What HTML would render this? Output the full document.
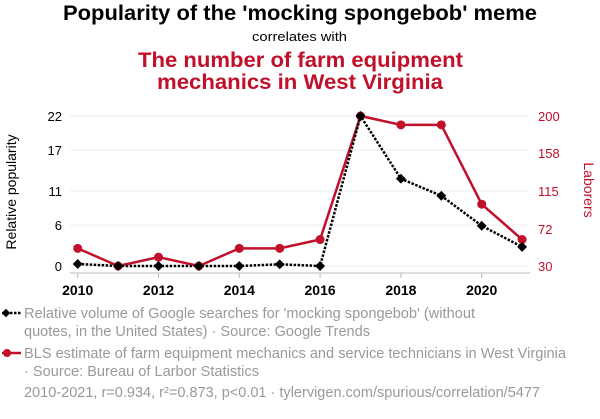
<!DOCTYPE html>
<html><head><meta charset="utf-8"><style>
body{margin:0;background:#fff;width:600px;height:414px;overflow:hidden;font-family:"Liberation Sans",sans-serif}
svg text{font-family:"Liberation Sans",sans-serif}
</style></head><body>
<svg id="c" width="600" height="414">
<text x="63" y="20" textLength="474" lengthAdjust="spacingAndGlyphs" font-size="21" font-weight="bold" fill="#000">Popularity of the 'mocking spongebob' meme</text>
<text x="252" y="41" textLength="95" lengthAdjust="spacingAndGlyphs" font-size="13" fill="#000">correlates with</text>
<text x="138" y="67" textLength="325" lengthAdjust="spacingAndGlyphs" font-size="21.5" font-weight="bold" fill="#c0102a">The number of farm equipment</text>
<text x="157" y="89" textLength="286" lengthAdjust="spacingAndGlyphs" font-size="21.5" font-weight="bold" fill="#c0102a">mechanics in West Virginia</text>
<g id="grid"></g><g id="axes"></g><g id="marks"></g>
<text transform="translate(16,192) rotate(-90)" text-anchor="middle" font-size="14" fill="#000">Relative popularity</text>
<text transform="translate(584,190) rotate(90)" text-anchor="middle" font-size="14" fill="#c0102a">Laborers</text>
<g>
<line x1="2" y1="313" x2="21" y2="313" stroke="#000" stroke-width="2.5" stroke-dasharray="2.5,1.5"/>
<rect x="3" y="310" width="6" height="6" transform="rotate(45 6 313)" fill="#000"/>
<text x="24" y="318" textLength="451" lengthAdjust="spacingAndGlyphs" font-size="14.5" fill="#999">Relative volume of Google searches for 'mocking spongebob' (without</text>
<text x="24" y="336" textLength="346" lengthAdjust="spacingAndGlyphs" font-size="14.5" fill="#999">quotes, in the United States) · Source: Google Trends</text></g>
<g>
<line x1="2" y1="353" x2="21" y2="353" stroke="#c0102a" stroke-width="2.5"/>
<circle cx="7" cy="353" r="4" fill="#c0102a"/>
<text x="24" y="358" textLength="542" lengthAdjust="spacingAndGlyphs" font-size="14.5" fill="#999">BLS estimate of farm equipment mechanics and service technicians in West Virginia</text>
<text x="24" y="376" textLength="235" lengthAdjust="spacingAndGlyphs" font-size="14.5" fill="#999">· Source: Bureau of Larbor Statistics</text></g>
<text x="24" y="397" textLength="516" lengthAdjust="spacingAndGlyphs" font-size="14.5" fill="#999">2010-2021, r=0.934, r²=0.873, p&lt;0.01 · tylervigen.com/spurious/correlation/5477</text>
</svg>
<script>
const years=[2010,2011,2012,2013,2014,2015,2016,2017,2018,2019,2020,2021];
const popularity=[0.3,0,0,0,0,0.25,0,22,12.8,10.3,5.9,2.8];
const laborers=[50,30,40,30,50,50,60,200,190,190,100,60];
const leftTicks=[0,6,11,17,22];
const rightTicks=[30,72,115,158,200];
const xTicks=[2010,2012,2014,2016,2018,2020];
const NS="http://www.w3.org/2000/svg";
const x=y=>77.7+(y-2010)*40.4;
const yl=v=>266-v*150/22;
const yr=v=>266-(v-30)*150/170;
function mk(t,a,p){const e=document.createElementNS(NS,t);for(const k in a)e.setAttribute(k,a[k]);p.appendChild(e);return e;}
const grid=document.getElementById('grid'),axes=document.getElementById('axes'),marks=document.getElementById('marks');
leftTicks.forEach((v,i)=>{
 const g=mk('line',{x1:70,x2:528,y1:yl(v),y2:yl(v),stroke:'#eee','stroke-width':1},grid);
 
 
 const t=mk('text',{x:62,y:yl(v)+5,'text-anchor':'end','font-size':13,fill:'#000'},axes);t.textContent=v;
 
 
 const r=mk('text',{x:538,y:yr(rightTicks[i])+5,'font-size':13,fill:'#c0102a'},axes);r.textContent=rightTicks[i];
 
 
});
const ax=mk('line',{x1:70,x2:530,y1:273,y2:273,stroke:'#bbb','stroke-width':1},axes);


xTicks.forEach(v=>{
 mk('line',{x1:x(v),x2:x(v),y1:273,y2:278,stroke:'#bbb'},axes);
 const t=mk('text',{x:x(v),y:295,'text-anchor':'middle','font-size':14,'font-weight':'bold',fill:'#000'},axes);t.textContent=v;
 
 
});
const rl=mk('polyline',{points:years.map((y,i)=>x(y)+','+yr(laborers[i])).join(' '),fill:'none',stroke:'#c0102a','stroke-width':2.5},marks);


years.forEach((y,i)=>{const c=mk('circle',{cx:x(y),cy:yr(laborers[i]),r:4.5,fill:'#c0102a'},marks);
 
 });
const bl=mk('polyline',{points:years.map((y,i)=>x(y)+','+yl(popularity[i])).join(' '),fill:'none',stroke:'#000','stroke-width':2.5,'stroke-dasharray':'2.5,1.5'},marks);


years.forEach((y,i)=>{const cx=x(y),cy=yl(popularity[i]);
 const d=mk('rect',{x:cx-3.5,y:cy-3.5,width:7,height:7,fill:'#000',transform:`rotate(45 ${cx} ${cy})`},marks);
 
 });
</script>
</body></html>
